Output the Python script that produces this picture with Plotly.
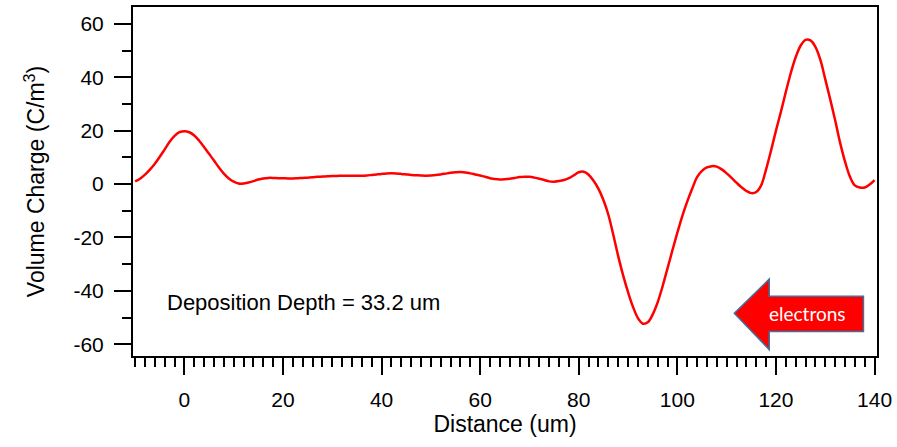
import plotly.graph_objects as go

# Volume charge profile across the sample depth, sampled every 1 um
distance_um = list(range(-10, 141))
charge_c_m3 = [
    1.0, 2.0, 3.5, 5.4, 7.6, 10.2, 13.0, 15.8, 18.0, 19.4,                 # -10 .. -1
    19.8, 19.4, 18.2, 16.2, 13.8, 11.3, 8.8, 6.2, 3.9, 2.1,                # 0 .. 9
    0.9, 0.2, 0.2, 0.6, 1.1, 1.7, 2.1, 2.3, 2.3, 2.2,                      # 10 .. 19
    2.2, 2.1, 2.1, 2.2, 2.3, 2.4, 2.5, 2.7, 2.8, 2.9,                      # 20 .. 29
    3.0, 3.05, 3.1, 3.1, 3.1, 3.1, 3.1, 3.2, 3.4, 3.6,                     # 30 .. 39
    3.8, 3.95, 4.0, 3.95, 3.8, 3.6, 3.4, 3.3, 3.2, 3.15,                   # 40 .. 49
    3.2, 3.35, 3.6, 3.9, 4.2, 4.4, 4.5, 4.35, 4.0, 3.6,                    # 50 .. 59
    3.2, 2.7, 2.2, 1.85, 1.7, 1.8, 2.0, 2.3, 2.6, 2.75,                    # 60 .. 69
    2.7, 2.4, 2.0, 1.5, 1.0, 0.9, 1.1, 1.5, 2.2, 3.3,                      # 70 .. 79
    4.4, 4.6, 3.5, 1.2, -1.8, -6.0, -11.5, -19.0, -27.0, -34.2,            # 80 .. 89
    -40.5, -46.0, -50.2, -52.3, -51.8, -48.8, -44.3, -38.3, -31.6, -24.8,  # 90 .. 99
    -18.2, -12.0, -6.6, -1.8, 2.6, 4.9, 6.2, 6.7, 6.5, 5.5,                # 100 .. 109
    4.0, 2.3, 0.5, -1.2, -2.6, -3.4, -3.0, -0.5, 5.5, 12.5,                # 110 .. 119
    20.0, 27.0, 34.5, 41.5, 47.5, 51.8, 54.0, 53.8, 51.4, 46.6,            # 120 .. 129
    39.3, 31.8, 24.0, 15.6, 8.5, 2.8, -0.5, -1.3, -1.3, -0.2,              # 130 .. 139
    1.5,                                                                   # 140
]

x_ticks = [0, 20, 40, 60, 80, 100, 120, 140]
y_ticks = [-60, -40, -20, 0, 20, 40, 60]

depth_label = "Deposition Depth = 33.2 um"
arrow_label = "electrons"

FONT = "Liberation Sans, Arial, sans-serif"

fig = go.Figure()
fig.add_trace(go.Scatter(
    x=distance_um, y=charge_c_m3, mode="lines",
    line=dict(color="#ff0000", width=2.5, shape="spline", smoothing=1.0),
    hoverinfo="skip", showlegend=False,
))

# Left-pointing block arrow marking the electron direction
tip_x, head_x, tail_x = 111.55, 118.64, 137.75
mid_y, head_top, head_bot, body_top, body_bot = -48.4, -35.6, -62.0, -42.0, -55.2
arrow_path = (f"M {tip_x},{mid_y} L {head_x},{head_top} L {head_x},{body_top} "
              f"L {tail_x},{body_top} L {tail_x},{body_bot} L {head_x},{body_bot} "
              f"L {head_x},{head_bot} Z")
fig.add_shape(type="path", path=arrow_path, xref="x", yref="y",
              fillcolor="#ff0000", line=dict(color="#41719c", width=1.5))
fig.add_annotation(x=126.5, y=mid_y, text=arrow_label,
                   showarrow=False, xanchor="center", yanchor="middle",
                   font=dict(family="Lato, Open Sans, sans-serif", size=19, color="white"))

fig.add_annotation(x=-4.0, y=-44.5, text=depth_label, showarrow=False,
                   xanchor="left", yanchor="middle",
                   font=dict(family=FONT, size=22, color="black"))

fig.update_layout(
    width=897, height=447,
    margin=dict(l=133, r=19, t=5, b=91),
    paper_bgcolor="white", plot_bgcolor="white",
    font=dict(family=FONT, color="black"),
)
fig.update_xaxes(
    range=[-10.43, 140.5], tickvals=x_ticks, ticktext=[str(v) for v in x_ticks],
    showgrid=False, zeroline=False,
    showline=True, linecolor="black", linewidth=2, mirror=True,
    ticks="outside", ticklen=17, tickwidth=2, tickcolor="black",
    ticklabelstandoff=7,
    minor=dict(dtick=2, tick0=0, ticks="outside", ticklen=9, tickwidth=2,
               tickcolor="black", showgrid=False),
    tickfont=dict(size=21),
    title=dict(text="Distance (um)", font=dict(size=23), standoff=4),
)
fig.update_yaxes(
    range=[-64.4, 66.3], tickvals=y_ticks, ticktext=[str(v) for v in y_ticks],
    showgrid=False, zeroline=False,
    showline=True, linecolor="black", linewidth=2, mirror=True,
    ticks="outside", ticklen=17, tickwidth=2, tickcolor="black",
    ticklabelstandoff=6,
    minor=dict(dtick=10, tick0=0, ticks="outside", ticklen=9, tickwidth=2,
               tickcolor="black", showgrid=False),
    tickfont=dict(size=21),
    title=dict(text="Volume Charge (C/m<sup>3</sup>)", font=dict(size=23), standoff=22),
)

fig.write_html("out.html")
